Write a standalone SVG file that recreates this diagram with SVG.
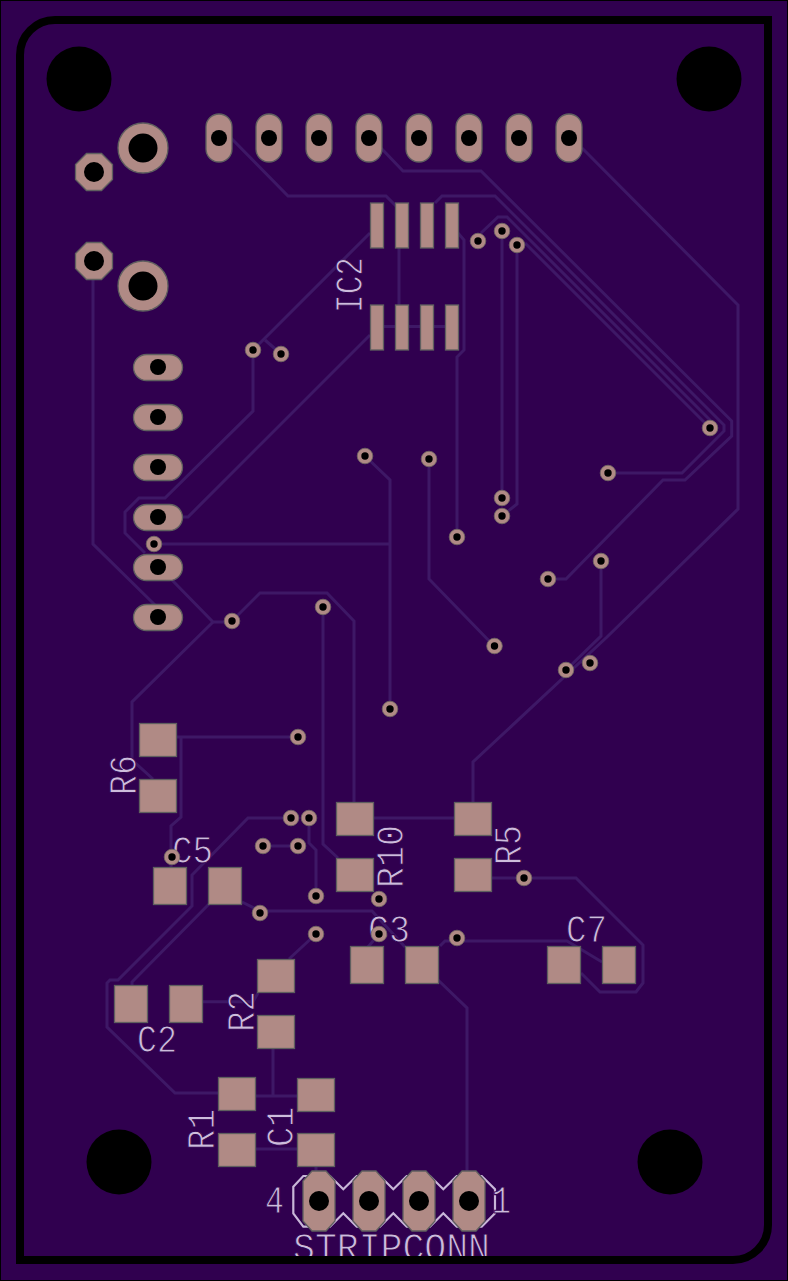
<svg xmlns="http://www.w3.org/2000/svg" width="788" height="1281" viewBox="0 0 788 1281">
<style>
.b{fill:#30004f}
.t{fill:none;stroke:#3e1866;stroke-width:3}
.p{fill:#b08a85;stroke:#5f5f5f;stroke-width:1.300}
.v{fill:#b08a85;stroke:#6f6662;stroke-width:.8}
.h{fill:#000}
.s{fill:none;stroke:#c8b6d8;stroke-width:2.200}
text{font-family:"Liberation Mono",monospace;fill:#cdbcdc;stroke:#30004f;stroke-width:1;font-size:39px}
.o{fill:none;stroke:#000;stroke-width:8}
</style>
<defs>
<g id="via"><circle r="7.800" class="v"/><circle r="3.700" class="h"/></g>
<g id="pv"><rect x="-13" y="-24" width="26" height="48" rx="13" class="p"/><circle cy="0" r="8" class="h"/></g>
<g id="ph"><rect x="-24.500" y="-13" width="49" height="26" rx="13" class="p"/><circle cy="-0.500" r="8" class="h"/></g>
<g id="big"><circle r="25" class="p"/><circle r="14.500" class="h"/></g>
<g id="oct"><polygon points="-7.500,-18.500 7.500,-18.500 18.500,-7.500 18.500,7.500 7.500,18.500 -7.500,18.500 -18.500,7.500 -18.500,-7.500" class="p"/><circle r="10" class="h"/></g>
<rect id="rr" x="-18.500" y="-16.500" width="37" height="33" class="p"/>
<rect id="cc" x="-16.500" y="-18.500" width="33" height="37" class="p"/>
<rect id="ic" x="-6.500" y="-22.500" width="13" height="45" class="p"/>
<g id="cn"><path d="M-7-30H7L16-20V20L7 30H-7L-16 20V-20Z" class="p"/><circle r="10" class="h"/></g>
</defs>
<rect width="788" height="1281" fill="#000"/>
<rect x="1" y="1" width="786" height="1279" class="b"/>
<g id="connectors">
<path class="t" d="M231 138L288 196H386L397 207"/>
<path class="t" d="M381 148L403 171H481L731.700 421V436L685 480H663L566 579H548"/>
<path class="t" d="M435 203L442 196H495L724 425V431L682 473H608"/>
<path class="t" d="M481 233L498 217H507L715 425"/>
<path class="t" d="M525 243L710 428"/>
<path class="t" d="M582 148L738 305V509L607 637L473 762V802"/>
<path class="t" d="M601 561V636L566 670"/>
<path class="t" d="M429 459V579L494 646"/>
<path class="t" d="M457 537V357L464 350V240L458 233"/>
<path class="t" d="M502 231V498"/>
<path class="t" d="M517 245V504L502 516"/>
<path class="t" d="M370 233L253 350V411L165 498H139L125 512V533L145 553"/>
<path class="t" d="M265 340L281 354"/>
<path class="t" d="M183 517H188L370 335"/>
<path class="t" d="M154 544H390"/>
<path class="t" d="M365 456L390 480V709"/>
<path class="t" d="M93 261V544L155 605"/>
<path class="t" d="M172 580L213 622H232"/>
<path class="t" d="M213 622L132 702V760L153 779"/>
<path class="t" d="M232 621L260 593H327L354 621V802"/>
<path class="t" d="M323 607V844L338 858"/>
<path class="t" d="M177 737H297"/>
<path class="t" d="M181 737V817L171 826V868"/>
<path class="t" d="M291 818H248L192 875V906L118 980H110L107 983V1027L175 1093H218"/>
<path class="t" d="M210 903L132 982V987"/>
<path class="t" d="M242 902L260 911H372L405 947"/>
<path class="t" d="M263 846H297"/>
<path class="t" d="M309 818V843L316 850V896"/>
<path class="t" d="M316 934L289 959"/>
<path class="t" d="M379 934L368 947"/>
<path class="t" d="M202 1001.700H253L258 993"/>
<path class="t" d="M273 1048V1095"/>
<path class="t" d="M256 1096H298"/>
<path class="t" d="M256 1149H298"/>
<path class="t" d="M316 1167V1172"/>
<path class="t" d="M438 980L467 1008V1173"/>
<path class="t" d="M440 946L445 941H567L602 962"/>
<path class="t" d="M492 878H576L643 945V983L636 992H600L581 973"/>
<path class="t" d="M399 248V305"/>
<path class="t" d="M377 326.500H452"/>
<path class="t" d="M373 818H455"/>
</g>
<g id="silk">
<path class="s" d="M293.300 1186.700L303.300 1176H330L343.300 1189.300L356.700 1176H380L393.300 1189.300L406.700 1176H430L443.300 1189.300L456.700 1176H481.700L495 1189.300V1213.300L481.700 1226.700H456.700L443.300 1213.300L430 1226.700H406.700L393.300 1213.300L380 1226.700H356.700L343.300 1213.300L330 1226.700H303.300L293.300 1213.300Z"/>
<text transform="translate(362 313) rotate(-90)" textLength="56" lengthAdjust="spacingAndGlyphs">IC2</text>
<text transform="translate(136 795) rotate(-90)" textLength="40" lengthAdjust="spacingAndGlyphs">R6</text>
<text transform="translate(403 888) rotate(-90)" textLength="63" lengthAdjust="spacingAndGlyphs">R10</text>
<text transform="translate(521 865) rotate(-90)" textLength="40" lengthAdjust="spacingAndGlyphs">R5</text>
<text transform="translate(254 1032) rotate(-90)" textLength="41" lengthAdjust="spacingAndGlyphs">R2</text>
<text transform="translate(214 1150) rotate(-90)" textLength="41" lengthAdjust="spacingAndGlyphs">R1</text>
<text transform="translate(293 1147) rotate(-90)" textLength="40" lengthAdjust="spacingAndGlyphs">C1</text>
<text x="172" y="863" textLength="41" lengthAdjust="spacingAndGlyphs">C5</text>
<text x="137" y="1052" textLength="40" lengthAdjust="spacingAndGlyphs">C2</text>
<text x="368" y="942" textLength="42" lengthAdjust="spacingAndGlyphs">C3</text>
<text x="566" y="942" textLength="41" lengthAdjust="spacingAndGlyphs">C7</text>
<text x="265" y="1213" textLength="19" lengthAdjust="spacingAndGlyphs">4</text>
<text x="492" y="1213" textLength="19" lengthAdjust="spacingAndGlyphs">1</text>
<text x="293" y="1260" textLength="197" lengthAdjust="spacingAndGlyphs">STRIPCONN</text>
</g>
<g id="holes">
<circle cx="79" cy="79" r="32.500" class="h"/>
<circle cx="709" cy="79" r="32.500" class="h"/>
<circle cx="119" cy="1162" r="32.500" class="h"/>
<circle cx="670" cy="1162" r="32.500" class="h"/>
</g>
<g id="J-top"><use href="#pv" x="219" y="138"/><use href="#pv" x="269" y="138"/><use href="#pv" x="319" y="138"/><use href="#pv" x="369" y="138"/><use href="#pv" x="419" y="138"/><use href="#pv" x="469" y="138"/><use href="#pv" x="519" y="138"/><use href="#pv" x="569" y="138"/></g>
<g id="J-left"><use href="#ph" x="158" y="367.500"/><use href="#ph" x="158" y="417.500"/><use href="#ph" x="158" y="467.500"/><use href="#ph" x="158" y="517.500"/><use href="#ph" x="158" y="567.500"/><use href="#ph" x="158" y="617.500"/></g>
<g id="SW"><use href="#big" x="143" y="148"/><use href="#big" x="143" y="286"/><use href="#oct" x="94" y="172"/><use href="#oct" x="94" y="261"/></g>
<g id="IC2"><use href="#ic" x="377" y="225.500"/><use href="#ic" x="402" y="225.500"/><use href="#ic" x="427" y="225.500"/><use href="#ic" x="452" y="225.500"/><use href="#ic" x="377" y="327.500"/><use href="#ic" x="402" y="327.500"/><use href="#ic" x="427" y="327.500"/><use href="#ic" x="452" y="327.500"/></g>
<g id="R6"><use href="#rr" x="158" y="740"/><use href="#rr" x="158" y="796"/></g>
<g id="R10"><use href="#rr" x="355" y="819"/><use href="#rr" x="355" y="875"/></g>
<g id="R5"><use href="#rr" x="473" y="819"/><use href="#rr" x="473" y="875"/></g>
<g id="R2"><use href="#rr" x="276" y="976"/><use href="#rr" x="276" y="1032"/></g>
<g id="R1"><use href="#rr" x="237" y="1094"/><use href="#rr" x="237" y="1150"/></g>
<g id="C1"><use href="#rr" x="316" y="1095"/><use href="#rr" x="316" y="1150"/></g>
<g id="C5"><use href="#cc" x="170" y="886"/><use href="#cc" x="225" y="886"/></g>
<g id="C2"><use href="#cc" x="131" y="1004"/><use href="#cc" x="186" y="1004"/></g>
<g id="C3"><use href="#cc" x="367" y="965"/><use href="#cc" x="422" y="965"/></g>
<g id="C7"><use href="#cc" x="564" y="965"/><use href="#cc" x="619" y="965"/></g>
<g id="STRIPCONN"><use href="#cn" x="319" y="1201"/><use href="#cn" x="369" y="1201"/><use href="#cn" x="419" y="1201"/><use href="#cn" x="469" y="1201"/></g>
<g id="vias">
<use href="#via" x="253" y="350"/><use href="#via" x="281" y="354"/><use href="#via" x="478" y="241"/><use href="#via" x="502" y="231"/><use href="#via" x="517" y="245"/><use href="#via" x="710" y="428"/><use href="#via" x="608" y="473"/><use href="#via" x="365" y="456"/><use href="#via" x="429" y="459"/><use href="#via" x="502" y="498"/><use href="#via" x="502" y="516"/><use href="#via" x="457" y="537"/><use href="#via" x="154" y="544"/><use href="#via" x="548" y="579"/><use href="#via" x="601" y="561"/><use href="#via" x="232" y="621"/><use href="#via" x="323" y="607"/><use href="#via" x="494.500" y="646"/><use href="#via" x="566" y="670"/><use href="#via" x="590" y="663"/><use href="#via" x="390" y="709"/><use href="#via" x="298" y="737"/><use href="#via" x="291" y="818"/><use href="#via" x="309" y="818"/><use href="#via" x="263" y="846"/><use href="#via" x="298" y="846"/><use href="#via" x="172" y="857"/><use href="#via" x="316" y="896"/><use href="#via" x="379" y="899"/><use href="#via" x="260" y="913"/><use href="#via" x="316" y="934"/><use href="#via" x="379" y="934"/><use href="#via" x="457" y="938"/><use href="#via" x="524" y="878"/>
</g>
<path id="outline" class="o" d="M55 20H768V1225A35 35 0 0 1 733 1260H20V55A35 35 0 0 1 55 20Z"/>
</svg>
